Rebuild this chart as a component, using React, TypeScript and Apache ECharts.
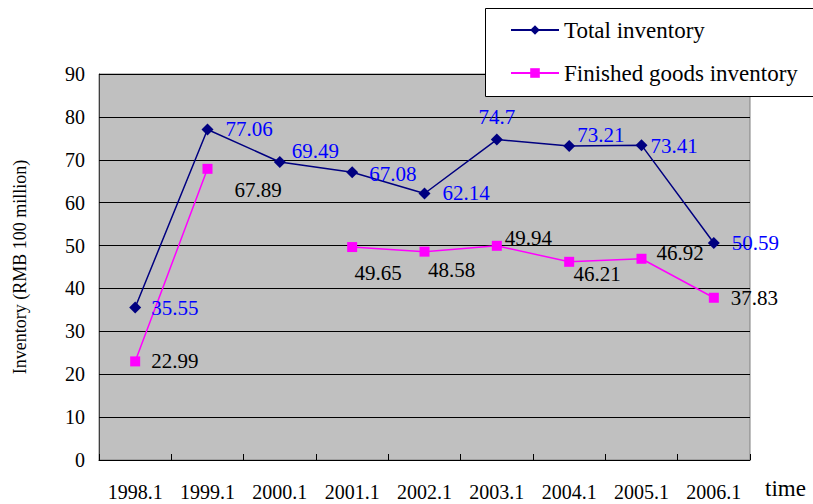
import React, { useEffect, useRef } from "react";
import * as echarts from "echarts";

const categories = ["1998.1", "1999.1", "2000.1", "2001.1", "2002.1", "2003.1", "2004.1", "2005.1", "2006.1"];
const totalInventory = [35.55, 77.06, 69.49, 67.08, 62.14, 74.7, 73.21, 73.41, 50.59];
const finishedGoods: (number | null)[] = [22.99, 67.89, null, 49.65, 48.58, 49.94, 46.21, 46.92, 37.83];
const yTicks = { min: 0, max: 90, interval: 10 };

// label placement styles (not data)
const totalLabelOffsets: [number, number][] = [
  [4, 0], [6, 0], [0, -11], [5, 2], [6, 0], [0, 0], [-4, -11], [-3, 1], [6, 0],
];
const totalLabelPos = ["right", "right", "right", "right", "right", "top", "right", "right", "right"];
const finishedLabelOffsets: [number, number][] = [
  [5, 0], [16, 21], [0, 0], [26, 26], [27, 18], [-3, -8], [28, 12], [4, -6], [6, 0],
];
const finishedLabelPos = ["right", "right", "right", "inside", "inside", "right", "inside", "right", "right"];

const FONT = "Liberation Serif";

export default function App() {
  const ref = useRef<HTMLDivElement>(null);
  useEffect(() => {
    if (!ref.current) return;
    const chart = echarts.init(ref.current, null, { renderer: "svg" });
    const totalData = totalInventory.map((v, i) => ({
      value: v,
      label: { position: totalLabelPos[i], offset: totalLabelOffsets[i] },
    }));
    const finishedData = finishedGoods.map((v, i) =>
      v == null
        ? null
        : { value: v, label: { position: finishedLabelPos[i], offset: finishedLabelOffsets[i] } }
    );
    chart.setOption({
      animation: false,
      backgroundColor: "#ffffff",
      textStyle: { fontFamily: FONT },
      grid: {
        left: 99, right: 63, top: 74, bottom: 44, show: true,
        backgroundColor: "#c0c0c0", borderColor: "#808080", borderWidth: 1,
      },
      graphic: [
        {
          type: "rect",
          shape: { x: 485.5, y: 8.5, width: 340, height: 88 },
          style: { fill: "#ffffff", stroke: "#000000", lineWidth: 1 },
          z: 10,
        },
        {
          type: "text", x: 765, y: 488,
          style: { text: "time", fontFamily: FONT, fontSize: 23, fill: "#000", verticalAlign: "middle" },
        },
      ],
      legend: {
        orient: "vertical", left: 505, top: 13, z: 20, itemWidth: 48, itemHeight: 12, itemGap: 19,
        textStyle: { fontFamily: FONT, fontSize: 23, color: "#000", lineHeight: 24 },
        data: ["Total inventory", "Finished goods inventory"],
      },
      xAxis: {
        type: "category", data: categories, boundaryGap: true,
        axisLine: { lineStyle: { color: "#000", width: 1 } },
        axisTick: { show: true, inside: true, length: 6, lineStyle: { color: "#000" } },
        axisLabel: { fontFamily: FONT, fontSize: 20, color: "#000", margin: 22 },
        splitLine: { show: false },
      },
      yAxis: {
        type: "value", min: yTicks.min, max: yTicks.max, interval: yTicks.interval,
        name: "Inventory (RMB 100 million)", nameLocation: "middle", nameGap: 70,
        nameTextStyle: { fontFamily: FONT, fontSize: 18, fontWeight: "normal", color: "#000" },
        axisLine: { show: true, lineStyle: { color: "#404040", width: 1 } },
        axisTick: { show: true, inside: true, length: 6, lineStyle: { color: "#000" } },
        axisLabel: { fontFamily: FONT, fontSize: 20, color: "#000", margin: 14 },
        splitLine: { show: true, lineStyle: { color: "#000", width: 1 } },
      },
      series: [
        {
          name: "Total inventory", type: "line", data: totalData, symbol: "diamond", symbolSize: 12,
          itemStyle: { color: "#000080" }, lineStyle: { color: "#000080", width: 1.5 },
          label: { show: true, fontFamily: FONT, fontSize: 21, color: "#0000ff", distance: 6 },
        },
        {
          name: "Finished goods inventory", type: "line", data: finishedData, connectNulls: false,
          symbol: "rect", symbolSize: 10,
          itemStyle: { color: "#ff00ff" }, lineStyle: { color: "#ff00ff", width: 1.5 },
          label: { show: true, fontFamily: FONT, fontSize: 21, color: "#000000", distance: 6 },
        },
      ],
    });
    return () => chart.dispose();
  }, []);
  return <div ref={ref} style={{ position: "fixed", left: 0, top: 0, width: 813, height: 504 }} />;
}
